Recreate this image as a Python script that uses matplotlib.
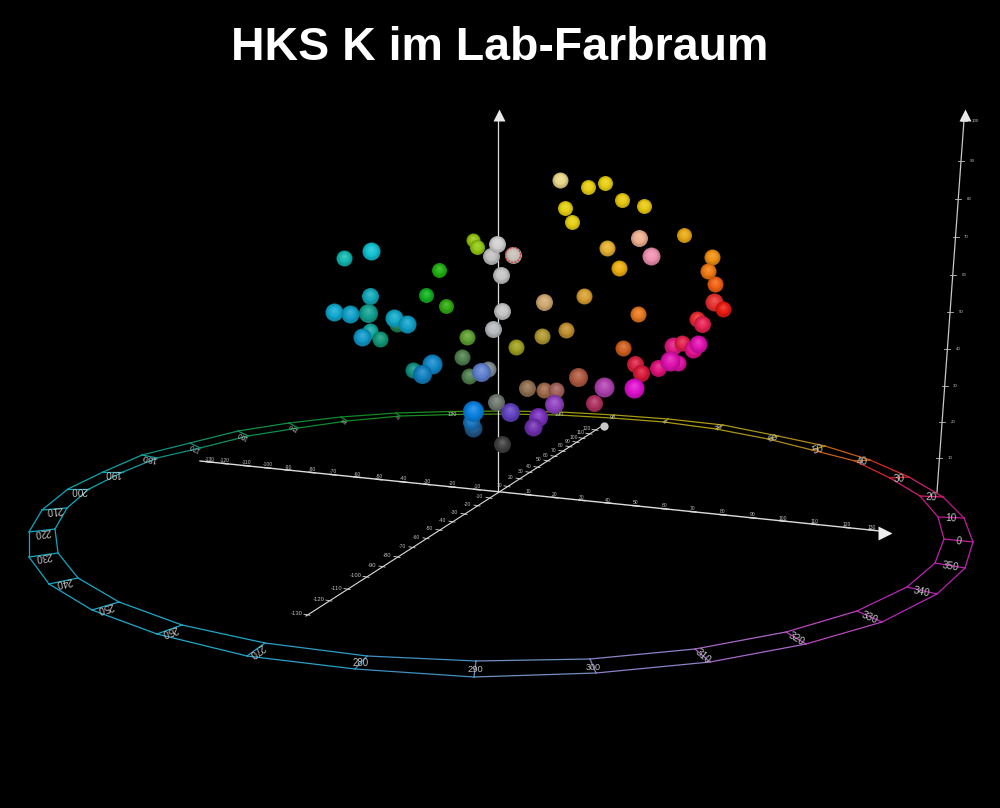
import numpy as np
import matplotlib
matplotlib.use("Agg")
import matplotlib.pyplot as plt
from matplotlib.colors import to_rgb
from matplotlib.patches import Circle

TITLE = "HKS K im Lab-Farbraum"

# ---- in picture pixels ----
ring_hue = list(range(0, 360, 10))
ring_in_x = [944,938,920,890,855,812,768,716,664,612,559,506,453,400,347,298,248,200,157,123,89,67,55,58,78,119,182,265,367,476,590,695,786,857,907,935]
ring_in_y = [539,517,496,478,461,450,439,429,422,418,415,414,414.5,416,421,428,436,448,458,472,489,508,529,553,578,602,625,643,656,661,659,649,632,611,587,563]
ring_out_x = [973,964,943,909,870,825,778,723,668,614,560,506,451,396,341,289,238,190,142,103,68,42,29,29,49,92,157,247,355,474,596,710,806,882,937,965]
ring_out_y = [542,518,497,477,460,446,436,425,419,415,412,411,411.5,413,417,423,431,443,455,472,489,510,532,557,584,610,634,656,669,677,673,662,644,622,594,568]
ring_col = ["#c0209a","#c01890","#d02070","#d82828","#c86010","#b08a18","#a89418","#b09a10","#a89a10","#a09a10",
            "#7f9a10","#4a9018","#1c8c20","#108a20","#108a30","#10904a","#109068","#109080","#10a0a0","#10a4b0",
            "#10a8c0","#10a8c0","#10a8c0","#10a8c0","#18a8c8","#20a8c8","#20a8c8","#28a0c8","#4090c0","#7090c0",
            "#9080c8","#a868c8","#b848c0","#b828b8","#bc20b4","#c020b0"]

a_tick_val = [-130,-120,-110,-100,-90,-80,-70,-60,-50,-40,-30,-20,-10,10,20,30,40,50,60,70,80,90,100,110,120,130]
a_tick_x = [210,225,247,268,288,312,333,357,379,403,427,452,477,528,555,582,608,636,665,693,723,753,783,815,847,872]
b_tick_val = [-130,-120,-110,-100,-90,-80,-70,-60,-50,-40,-30,-20,-10,10,20,30,40,50,60,70,80,90,100,110,120]
b_tick_x = [308,330,348,367,383,398,413,427,440,453,465,478,490,508,520,530,538,548,555,563,570,577,583,590,596]
l_tick_val = [100,90,80,70,60,50,40,30,20,10]
l_tick_y = [121,161,199,237,275,312,349,386,422,458]

sphere_x = [560,588,605,622,644,565,572,684,639,651,607,619,712,708,715,714,723,697,702,638,584,544,566,542,516,623,635,641,658,673,682,693,698,678,670,634,604,578,594,527,544,556,554,538,533,510,
            371,344,370,334,350,368,397,394,407,370,362,380,413,432,422,
            473,477,439,426,446,467,462,469,488,481,
            491,497,513,501,502,493,496,502,
            473,471,473]
sphere_y = [180,187,183,200,206,208,222,235,238,256,248,268,257,271,284,302,309,319,324,314,296,302,330,336,347,348,364,373,368,346,343,349,344,363,361,388,387,377,403,388,390,390,404,417,427,412,
            251,258,296,312,314,313,324,318,324,331,337,339,370,364,374,
            240,247,270,295,306,337,357,376,369,372,
            256,244,255,275,311,329,402,444,
            428,422,411]
sphere_r = [8,7.5,7.5,7.5,7.5,7.5,7.5,7.5,8.5,9,8,8,8,8,8,9,8,8,8.5,8,8,8.5,8,8,8,8,8.5,8.5,8.5,9,8,9,9,8,10,10,10,9.5,8.5,8.5,8,8,9.5,9.5,9,9.5,
            9,8,8.5,9,9,9.5,8,9,9,8,9,8,8,10,9.5,
            7,7.5,7.5,7.5,7.5,8,8,8,8,9.5,
            8.5,8.5,8.5,8.5,8.5,8.5,8.5,8.5,
            9,8.5,10.5]
sphere_c = ["#e8d88a","#e8cf10","#e8cf10","#e8c810","#e8c810","#e6d010","#e6d010","#e8a810","#f0b090","#f090b0","#e8b030","#efae10","#f09010","#f07a10","#f06010","#e83030","#e81a10","#e82a30","#e82050","#e87820","#d8a030","#d0a870","#c09030","#b09830","#a0a020","#d06020","#d82040","#d81838","#e0107a","#e01880","#e0204a","#e81090","#e010b0","#e010a0","#e010b0","#e010d0","#b040b0","#b05a40","#b03060","#907050","#a06a4a","#a06058","#9040c0","#7a30c0","#7030b0","#6040c0",
            "#10c0d0","#10b8b0","#10a8b8","#10a8d0","#10a0c8","#10a090","#208050","#10a8c8","#10a0c8","#10a8a0","#1098c8","#109878","#109080","#1088c8","#1080c0",
            "#90c010","#90c810","#20b010","#10b020","#30a810","#60a030","#508050","#508050","#808890","#6080d0",
            "#c0c0c0","#d0d0d0","#c8c0b8","#c4c4c4","#c4c4c4","#b8bcc0","#707870","#404040",
            "#205888","#1870b8","#0880e0"]

# ---- figure ----
fig = plt.figure(figsize=(10, 8.08), dpi=100, facecolor="black")
ax = fig.add_axes([0, 0, 1, 1], facecolor="black")
ax.set_xlim(0, 1000)
ax.set_ylim(808, 0)
ax.axis("off")

LABEL = "#c0c0c0"
AX = "#dcdcdc"
SANS = "Liberation Sans"

ax.text(500, 60, TITLE, color="white", fontsize=33.5, fontweight="bold",
        family=SANS, ha="center", va="baseline")

# hue ring
n = len(ring_hue)
for i in range(n):
    j = (i + 1) % n
    c = ring_col[i]
    ax.plot([ring_in_x[i], ring_in_x[j]], [ring_in_y[i], ring_in_y[j]], color=c, lw=0.9, zorder=2)
    ax.plot([ring_out_x[i], ring_out_x[j]], [ring_out_y[i], ring_out_y[j]], color=c, lw=0.9, zorder=2)
    ax.plot([ring_in_x[i], ring_out_x[i]], [ring_in_y[i], ring_out_y[i]], color=c, lw=0.9, zorder=2)
    dx = ring_out_x[i] - ring_in_x[i]
    dy = ring_out_y[i] - ring_in_y[i]
    L = np.hypot(dx, dy)
    lab = str(ring_hue[i])
    if abs(dx) >= abs(dy):
        rot = np.degrees(np.arctan2(-dy, dx))
        size = min(L / (0.56 * max(len(lab), 2)), 10) * 0.72
    else:
        rot = 0
        size = (4.5 + 0.3 * L) * 0.72
    ax.text(ring_in_x[i] + dx * 0.5, ring_in_y[i] + dy * 0.5 + 1, lab, color=LABEL, fontsize=size,
            family=SANS, rotation=rot, rotation_mode="anchor", ha="center", va="center", zorder=3)

# Lab axes
origin = (498, 492)
a_end_l, a_end_r = (200, 461), (880, 531)
b_end_l, b_end_r = (306, 616), (602, 426)
l_side_bot, l_side_top = (937, 492), (964, 120)

ax.plot([a_end_l[0], a_end_r[0]], [a_end_l[1], a_end_r[1]], color=AX, lw=1.0, zorder=4)
ax.plot([b_end_l[0], b_end_r[0]], [b_end_l[1], b_end_r[1]], color=AX, lw=0.8, zorder=4)
ax.plot([origin[0], origin[0]], [origin[1], 118], color=AX, lw=0.9, zorder=4)
ax.plot([l_side_bot[0], l_side_top[0]], [l_side_bot[1], l_side_top[1]], color="#c8c8c8", lw=0.9, zorder=4)

ax.plot([origin[0] + 0.5], [114.5], marker="^", ms=8.5, color="#e8e8e8", mec="none", zorder=5)
ax.plot([964.5], [115], marker="^", ms=8, color="#e8e8e8", mec="none", zorder=5)
ax.plot([885], [533], marker=">", ms=9.5, color="#eeeeee", mec="none", zorder=5)
ax.plot([603.5], [425.5], marker="o", ms=6, color="#c8c8c8", mec="none", zorder=5)

for v, x in zip(a_tick_val, a_tick_x):
    y = np.interp(x, [a_end_l[0], a_end_r[0]], [a_end_l[1], a_end_r[1]])
    ax.plot([x - 3, x + 3], [y - 0.3, y + 0.3], color=AX, lw=1.0, zorder=4)
    ax.text(x, y - 3, str(v), color=LABEL, fontsize=3.6, family=SANS, ha="center", va="center", zorder=4)

for v, x in zip(b_tick_val, b_tick_x):
    y = np.interp(x, [b_end_l[0], b_end_r[0]], [b_end_l[1], b_end_r[1]])
    ax.plot([x - 4, x + 2], [y - 0.5, y + 0.5], color=AX, lw=0.6, zorder=4)
    ax.text(x - 11 if v < 0 else x - 9, y - 1, str(v), color=LABEL, fontsize=4.2 if x < 400 else 3.6,
            family=SANS, ha="center", va="center", zorder=4)

for v, y in zip(l_tick_val, l_tick_y):
    x = np.interp(y, [l_side_top[1], l_side_bot[1]], [l_side_top[0], l_side_bot[0]])
    ax.plot([x - 3, x + 3], [y, y], color="#c0c0c0", lw=0.6, zorder=4)
    ax.text(x + 11, y, str(v), color=LABEL, fontsize=3.2, family=SANS, ha="center", va="center", zorder=4)

# shaded spheres, back to front in list order
def px2s(r):
    return (2 * r * 0.72) ** 2

layers = np.linspace(0, 1, 10)
z = 10.0
for x, y, r, c in zip(sphere_x, sphere_y, sphere_r, sphere_c):
    base = np.array(to_rgb(c))
    for t in layers:
        if t < 0.4:
            col = base * (0.80 + 0.20 * t / 0.4)
        else:
            col = base + (1 - base) * 0.20 * (t - 0.4) / 0.6
        rr = r * (1 - 0.9 * t)
        ax.scatter([x], [y - 0.30 * r * t], s=px2s(rr), color=[col], linewidths=0, zorder=z)
        z += 0.001
    z += 0.1

# red dashed selection marker
ax.add_patch(Circle((513, 255), 7.5, fill=False, edgecolor="#e03030", lw=0.9,
                    linestyle=(0, (1.5, 1.2)), zorder=z))

fig.savefig("out.png", dpi=100, facecolor="black")
